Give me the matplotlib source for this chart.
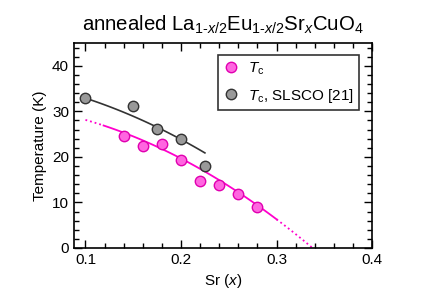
import numpy as np
import matplotlib
matplotlib.use("Agg")
import matplotlib.pyplot as plt
from matplotlib.ticker import MultipleLocator

plt.rcParams['font.family'] = ['Liberation Sans', 'DejaVu Sans']
plt.rcParams['mathtext.fontset'] = 'custom'
plt.rcParams['mathtext.rm'] = 'Liberation Sans'
plt.rcParams['mathtext.it'] = 'Liberation Sans:italic'

# data
x_tc = [0.14, 0.16, 0.18, 0.20, 0.22, 0.24, 0.26, 0.28]
tc = [24.5, 22.3, 22.9, 19.3, 14.7, 13.8, 11.9, 8.9]
x_slsco = [0.10, 0.15, 0.175, 0.20, 0.225]
tc_slsco = [33.0, 31.1, 26.2, 24.0, 18.0]

# guide lines
guide_tc_x = [0.10, 0.20, 0.30, 0.338]
guide_tc_y = [28.1, 19.7, 6.2, 0.0]
guide_slsco_x = [0.10, 0.15, 0.175, 0.20, 0.225]
guide_slsco_y = [32.9, 28.9, 26.4, 24.0, 20.8]

fit_solid = (0.119, 0.30)
fit_dot_lo = (0.10, 0.119)
fit_dot_hi = (0.30, 0.3385)

fig = plt.figure(figsize=(4.47, 2.98), dpi=100)
ax = fig.add_axes([0.1655, 0.1678, 0.667, 0.688])

pink_line = '#ff00cc'
pink_face = '#ff66e0'
pink_edge = '#e000b0'

c1 = np.polyfit(guide_tc_x, guide_tc_y, 2)
for rng, ls in [(fit_solid, '-'), (fit_dot_lo, ':'), (fit_dot_hi, ':')]:
    xx = np.linspace(rng[0], rng[1], 100)
    ax.plot(xx, np.polyval(c1, xx), color=pink_line, lw=1.3, ls=ls, zorder=2)

c2 = np.polyfit(guide_slsco_x, guide_slsco_y, 2)
xx = np.linspace(guide_slsco_x[0], guide_slsco_x[-1], 100)
ax.plot(xx, np.polyval(c2, xx), color='#333333', lw=1.2, zorder=2)

ax.plot(x_tc, tc, 'o', ms=7.5, mfc=pink_face, mec=pink_edge, mew=1.0, ls='none',
        label=r'$T_\mathrm{c}$', zorder=3)
ax.plot(x_slsco, tc_slsco, 'o', ms=7.5, mfc='#999999', mec='#333333', mew=1.0, ls='none',
        label=r'$T_\mathrm{c}$, SLSCO [21]', zorder=3)

ax.set_xlim(0.088, 0.4)
ax.set_ylim(0, 45)
ax.xaxis.set_minor_locator(MultipleLocator(0.02))
ax.yaxis.set_major_locator(MultipleLocator(10))
ax.yaxis.set_minor_locator(MultipleLocator(2))
ax.set_xticks([0.1, 0.2, 0.3, 0.4])
ax.set_xticklabels(['0.1', '0.2', '0.3', '0.4'])
ax.tick_params(which='both', direction='in', top=True, right=True, labelsize=11, colors='black')
ax.tick_params(which='major', length=6, width=1)
ax.tick_params(which='minor', length=3.5, width=1)
for s in ax.spines.values():
    s.set_linewidth(1.2)

ax.set_xlabel(r'Sr ($x$)', fontsize=11)
ax.set_ylabel('Temperature (K)', fontsize=11)
ax.set_title(r'annealed La$_{\mathrm{1\text{-}}x\mathrm{/2}}$Eu$_{\mathrm{1\text{-}}x\mathrm{/2}}$Sr$_x$CuO$_4$',
             fontsize=14.7, pad=9)

leg = ax.legend(loc='upper right', fontsize=11, frameon=True, fancybox=False,
                edgecolor='black', handletextpad=0.6, handlelength=1.0,
                borderpad=0.35, labelspacing=0.65, borderaxespad=0,
                bbox_to_anchor=(0.956, 0.941))
leg.get_frame().set_linewidth(1.2)

fig.savefig('out.png', dpi=100)
